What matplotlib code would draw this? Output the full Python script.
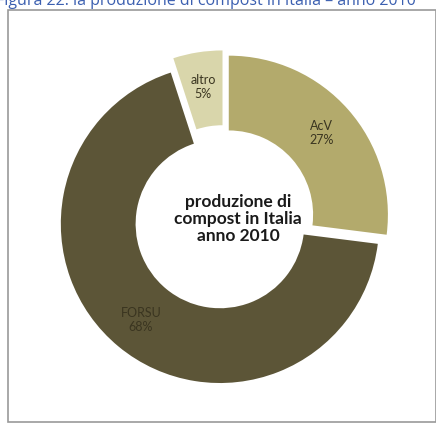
import matplotlib.pyplot as plt
from matplotlib.patches import Rectangle

# data
categories = ['AcV', 'FORSU', 'altro']
values = [27, 68, 5]
colors = ['#b3aa6c', '#5c5537', '#d9d6ab']
explode = [0.04, 0.04, 0.06]

W, H = 436, 426
fig = plt.figure(figsize=(W / 100, H / 100), dpi=100)
fig.patch.set_facecolor('white')

# caption of the document, cut at the top edge
fig.text(-0.01, 0.997, 'Figura 22: la produzione di compost in Italia \u2013 anno 2010',
         color='#3b5fb0', fontsize=11.5, family='Open Sans', va='center', ha='left')

# frame round the chart
fig.patches.append(Rectangle((8 / W, 4 / H), (W - 8) / W, (H - 14) / H,
                             transform=fig.transFigure, fill=False,
                             edgecolor='#9a9a9a', linewidth=1.2))

# pie axes: centre at (224, 219) px, radius 1 = 153 px
cx, cy, r = 224, 219, 153
half = 1.3 * r
ax = fig.add_axes([(cx - half) / W, (H - cy - half) / H, 2 * half / W, 2 * half / H])
ax.set_xlim(-1.3, 1.3)
ax.set_ylim(-1.3, 1.3)
ax.axis('off')

labels = [f'{c}\n{v}%' for c, v in zip(categories, values)]
wedges, texts = ax.pie(values, colors=colors, explode=explode, startangle=90,
                       counterclock=False, radius=1.0, labels=labels,
                       labeldistance=0.78,
                       wedgeprops=dict(width=0.47, edgecolor='none'),
                       textprops=dict(fontsize=9, color='#3a3520',
                                      family='Lato', ha='center', va='center'))

fig.text(238 / W, 1 - 219 / H, 'produzione di\ncompost in Italia\nanno 2010',
         ha='center', va='center', fontsize=12.5, fontweight='bold', family='Lato',
         color='#1a1a1a', linespacing=1.1)

fig.savefig('out.png', dpi=100)
